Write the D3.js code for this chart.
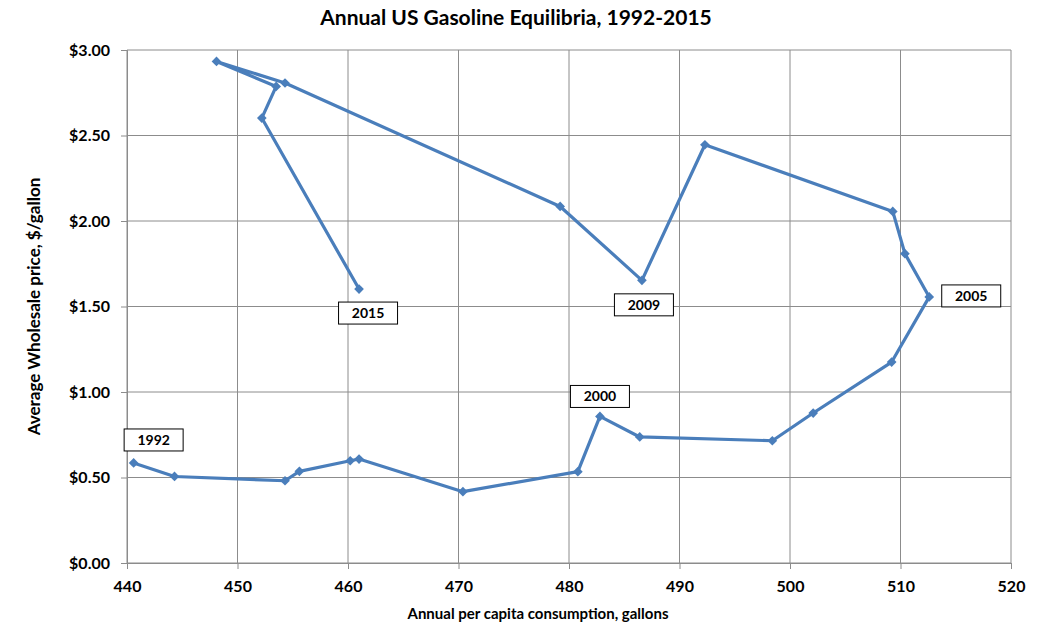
<!DOCTYPE html>
<html lang="en">
<head>
<meta charset="UTF-8">
<script src="https://d3js.org/d3.v7.min.js"></script>
<style>
    body { margin: 0; background: #fff; }
    text { font-family: Lato, 'Open Sans', Arial, sans-serif; font-weight: bold; fill: #000; }
</style>
</head>
<body>
<svg id="chart" width="1039" height="630"></svg>
<script>
// Data: one point per year 1992-2015
const years = d3.range(1992, 2016);
const consumption = [440.6, 444.3, 454.3, 455.6, 460.2, 461.0, 470.4, 480.8, 482.8, 486.4,
    498.4, 502.1, 509.2, 512.6, 510.4, 509.3, 492.3, 486.6, 479.2, 454.3,
    448.1, 453.5, 452.2, 461.0];
const price = [0.585, 0.506, 0.481, 0.536, 0.598, 0.608, 0.417, 0.534, 0.857, 0.737,
    0.715, 0.877, 1.175, 1.556, 1.809, 2.056, 2.446, 1.653, 2.085, 2.807,
    2.933, 2.787, 2.602, 1.602];
const labelledYears = [1992, 2000, 2005, 2009, 2015];
const xTicks = [440, 450, 460, 470, 480, 490, 500, 510, 520];
const yTicks = [0, 0.5, 1, 1.5, 2, 2.5, 3];

const points = years.map((yr, i) => ({ year: yr, x: consumption[i], y: price[i] }));

const svg = d3.select('#chart');
const margin = { left: 127, right: 28, top: 50, bottom: 67 };
const width = 1039, height = 630;

const x = d3.scaleLinear().domain([440, 520]).range([margin.left, width - margin.right]);
const y = d3.scaleLinear().domain([0, 3]).range([height - margin.bottom, margin.top]);

// gridlines
svg.append('g')
    .selectAll('line')
    .data(xTicks)
    .join('line')
    .attr('x1', d => x(d)).attr('x2', d => x(d))
    .attr('y1', y(0)).attr('y2', y(3))
    .attr('stroke', '#8c8c8c').attr('stroke-width', 1);
svg.append('g')
    .selectAll('line')
    .data(yTicks)
    .join('line')
    .attr('x1', x(440)).attr('x2', x(520))
    .attr('y1', d => y(d)).attr('y2', d => y(d))
    .attr('stroke', '#8c8c8c').attr('stroke-width', 1);

// axes
const xAxis = svg.append('g')
    .attr('transform', `translate(0,${y(0)})`)
    .call(d3.axisBottom(x).tickValues(xTicks).tickSizeOuter(0).tickSize(6).tickPadding(12));
const yAxis = svg.append('g')
    .attr('transform', `translate(${x(440)},0)`)
    .call(d3.axisLeft(y).tickValues(yTicks).tickFormat(d => '$' + d.toFixed(2)).tickSizeOuter(0).tickSize(6).tickPadding(11));
[xAxis, yAxis].forEach(g => {
    g.selectAll('path, line').attr('stroke', '#8c8c8c');
    g.selectAll('text').style('font-size', '16px');
});

// trajectory line
const line = d3.line().x(d => x(d.x)).y(d => y(d.y));
svg.append('path')
    .datum(points)
    .attr('d', line)
    .attr('fill', 'none')
    .attr('stroke', '#4a7ebb')
    .attr('stroke-width', 3.2)
    .attr('stroke-linejoin', 'round');

// diamond markers
svg.append('g')
    .selectAll('path')
    .data(points)
    .join('path')
    .attr('transform', d => `translate(${x(d.x)},${y(d.y)})`)
    .attr('d', d3.symbol().type(d3.symbolDiamond2).size(60))
    .attr('fill', '#4a7ebb');

// year labels in boxes, offset from their point
const labelOffsets = { 1992: [20, -23], 2000: [0, -20], 2005: [42, -1], 2009: [2, 24.5], 2015: [9, 24] };
const labels = svg.append('g')
    .selectAll('g')
    .data(points.filter(d => labelledYears.includes(d.year)))
    .join('g')
    .attr('transform', d => `translate(${x(d.x) + labelOffsets[d.year][0]},${y(d.y) + labelOffsets[d.year][1]})`);
labels.append('rect')
    .attr('x', -29.5).attr('y', -11).attr('width', 59).attr('height', 22)
    .attr('fill', '#fff').attr('stroke', '#000').attr('stroke-width', 1);
labels.append('text')
    .attr('text-anchor', 'middle').attr('dy', '0.35em')
    .style('font-size', '14px')
    .text(d => d.year);

// titles
svg.append('text')
    .attr('x', 516).attr('y', 25)
    .attr('text-anchor', 'middle')
    .style('font-size', '21px')
    .text('Annual US Gasoline Equilibria, 1992-2015');
svg.append('text')
    .attr('x', 538).attr('y', 619)
    .attr('text-anchor', 'middle')
    .style('font-size', '15px')
    .text('Annual per capita consumption, gallons');
svg.append('text')
    .attr('transform', `translate(40,${(y(0) + y(3)) / 2}) rotate(-90)`)
    .attr('text-anchor', 'middle')
    .style('font-size', '17px')
    .text('Average Wholesale price, $/gallon');
</script>
</body>
</html>
